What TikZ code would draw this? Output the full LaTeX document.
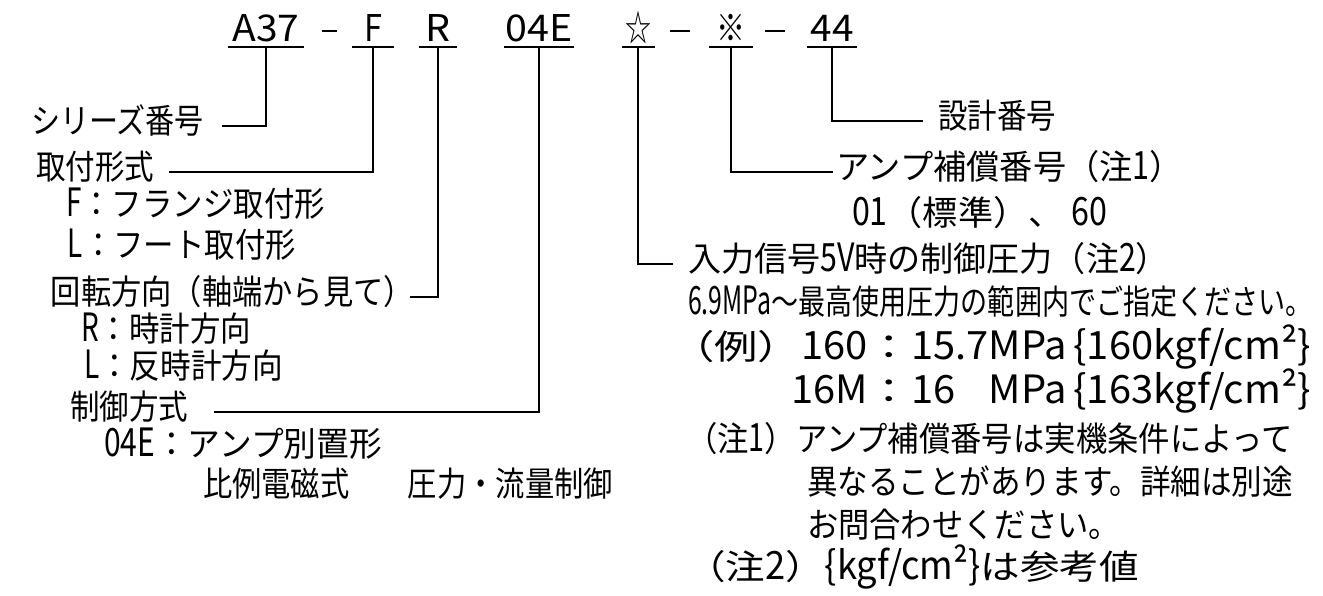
\documentclass[tikz,border=0pt]{standalone}
\usepackage{fontspec}
\setmainfont{Noto Sans CJK JP}
\usepackage{graphicx}
\newsavebox\fitbox
\newsavebox\prefbox
\newsavebox\numbox
\newcommand\fitto[2]{\sbox\fitbox{#2}\pgfmathsetmacro\fitsx{0.5*#1/\the\wd\fitbox}\global\let\lastfitsx\fitsx\scalebox{\fitsx}[1]{\usebox\fitbox}}
\newcommand\lat[1]{\scalebox{0.8}[1]{\fontsize{19.5}{21}\selectfont #1}}
\begin{document}
\begin{tikzpicture}[x=0.5pt,y=-0.5pt,line width=1pt,
  tok/.style={anchor=south,inner sep=0pt,text depth=2.5pt,text height=14pt,font=\fontsize{18.4}{20}\selectfont},
  lbl/.style={anchor=west,inner sep=0pt,text height=0.83em,text depth=0.07em,font=\fontsize{17}{19}\selectfont},
  uline/.style={line width=1pt},
  conn/.style={line width=1pt}]
\useasboundingbox[fill=white] (0,0) rectangle (1323,595);
% title tokens
\node[tok,minimum width=37pt] (a37) at (266,47) {\fitto{67}{A37}};
\node[tok] (d1) at (329.5,47) {\raisebox{4.5pt}{\rule{7.5pt}{1pt}}};
\node[tok,minimum width=20pt] (tf) at (373,47) {\fitto{18}{F}};
\node[tok,minimum width=18pt] (tr) at (438,47) {\fitto{25}{R}};
\node[tok,minimum width=34pt] (t04e) at (539,47) {\fitto{67}{04E}};
\node[tok,minimum width=15.5pt] (tstar) at (638,47) {\fitto{26}{☆}};
\node[tok] (d2) at (680,47) {\raisebox{4.5pt}{\rule{10pt}{1pt}}};
\node[tok,minimum width=21pt] (tkome) at (731,47) {\fitto{29}{※}};
\node[tok] (d3) at (775,47) {\raisebox{4.5pt}{\rule{10pt}{1pt}}};
\node[tok,minimum width=24pt] (t44) at (832,47) {\fitto{43}{44}};
\foreach \t in {a37,tf,tr,t04e,tstar,tkome,t44}
  \draw[uline] (\t.south west) -- (\t.south east);
% left labels
\node[lbl] (series) at (30,126) {\fitto{173}{シリーズ番号}};
\node[lbl] (mount) at (35,172) {\fitto{118}{取付形式}};
\node[lbl] (mF) at (65,209) {\fitto{259}{\lat{F}：フランジ取付形}};
\node[lbl] (mL) at (67,250) {\fitto{228}{\lat{L}：フート取付形}};
\node[lbl] (rot) at (50,297) {\fitto{363}{回転方向（軸端から見て）}};
\node[lbl] (rR) at (80,334) {\fitto{170}{\lat{R}：時計方向}};
\node[lbl] (rL) at (83,371) {\fitto{199}{\lat{L}：反時計方向}};
\node[lbl] (ctrl) at (69,412) {\fitto{118}{制御方式}};
\node[lbl] (c04) at (103,449) {\fitto{278}{\lat{04E}：アンプ別置形}};
\node[lbl] (cprop) at (202,489) {\fitto{410}{比例電磁式　　圧力・流量制御}};
% right labels
\node[lbl] (design) at (937,121) {\fitto{118}{設計番号}};
\node[lbl] (amp) at (835,172) {\fitto{347}{アンプ補償番号（注\lat{1}）}};
\node[lbl] (amp2) at (851,218) {\fitto{255}{\lat{01}（標準）、 \lat{60}}};
\node[lbl] (inp) at (687,264) {\fitto{481}{入力信号\lat{5V}時の制御圧力（注\lat{2}）}};
\node[lbl] (inp2) at (687,307) {\fitto{625}{\lat{6.9MPa}〜最高使用圧力の範囲内でご指定ください。}};
\node[lbl] (ex1) at (670,352) {\fitto{640}{（例）\lat{160}：\lat{15.7}\lat{MPa\,\{160kgf/cm²\}}}};
\node[lbl] (ex2) at (670,396) {\sbox\prefbox{（例）\lat{160}}\sbox\numbox{\lat{15.7}}%
  \scalebox{\lastfitsx}[1]{\makebox[\wd\prefbox][r]{\lat{16M}}：\makebox[\wd\numbox][l]{\lat{16}}\lat{MPa\,\{163kgf/cm²\}}}};
\node[lbl] (n1) at (685,444) {\fitto{607}{（注\lat{1}）アンプ補償番号は実機条件によって}};
\node[lbl] (n1b) at (806,487) {\fitto{486}{異なることがあります。詳細は別途}};
\node[lbl] (n1c) at (806,530) {\fitto{313}{お問合わせください。}};
\node[lbl] (n2) at (685,572) {\fitto{453}{（注\lat{2}）\lat{\{kgf/cm²\}}は参考値}};
% connectors
\draw[conn,shorten >=8.5pt] (a37.south) |- (series.east);
\draw[conn,shorten >=7pt] (tf.south) |- (mount.east);
\draw[conn,shorten >=-2.5pt] (tr.south) |- (rot.east);
\draw[conn,shorten >=12.5pt] (t04e.south) |- (ctrl.east);
\draw[conn,shorten >=7pt] (tstar.south) |- (inp.west);
\draw[conn,shorten >=1pt] (tkome.south) |- (amp.west);
\draw[conn,shorten >=7pt] (t44.south) |- (design.west);
\end{tikzpicture}
\end{document}
